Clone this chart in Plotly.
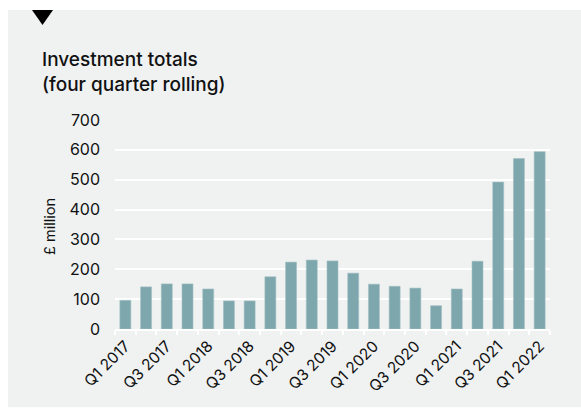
import plotly.graph_objects as go

# Quarterly investment totals, four-quarter rolling (£ million)
quarters = [
    "Q1 2017", "Q2 2017", "Q3 2017", "Q4 2017",
    "Q1 2018", "Q2 2018", "Q3 2018", "Q4 2018",
    "Q1 2019", "Q2 2019", "Q3 2019", "Q4 2019",
    "Q1 2020", "Q2 2020", "Q3 2020", "Q4 2020",
    "Q1 2021", "Q2 2021", "Q3 2021", "Q4 2021",
    "Q1 2022",
]
totals = [96, 141, 151, 151, 134, 94, 94, 175, 224, 231, 228, 187,
          150, 143, 137, 78, 134, 227, 492, 571, 594]

y_ticks = [0, 100, 200, 300, 400, 500, 600, 700]
title_text = "Investment totals<br>(four quarter rolling)"
y_title = "£ million"

# Only every other quarter is labelled
tick_text = [q if i % 2 == 0 else "" for i, q in enumerate(quarters)]

W, H = 581, 408
ML, MR, MT, MB = 115, 31, 120, 77
PW, PH = W - ML - MR, H - MT - MB

CARD = "#eff2f1"
BAR = "#7da7ad"
INK = "#111111"
FONT = "Inter, Roboto, sans-serif"


def px_x(px):
    return (px - ML) / PW


def px_y(py):
    return 1 - (py - MT) / PH


fig = go.Figure(
    go.Bar(
        x=quarters,
        y=totals,
        marker=dict(color=BAR, line=dict(color="#a3c0c4", width=0.6)),
        hoverinfo="x+y",
    )
)

fig.update_layout(
    width=W,
    height=H,
    margin=dict(l=ML, r=MR, t=MT, b=MB),
    paper_bgcolor="white",
    plot_bgcolor=CARD,
    bargap=0.47,
    showlegend=False,
    font=dict(family=FONT, color=INK, size=16),
    shapes=[
        # background card
        dict(type="rect", xref="paper", yref="paper", layer="below",
             x0=px_x(8), x1=px_x(W + 2), y0=px_y(H + 2), y1=px_y(9),
             fillcolor=CARD, line=dict(width=0)),
        # marker triangle on the card's top edge
        dict(type="path", xref="paper", yref="paper",
             path=(f"M {px_x(32)} {px_y(9)} L {px_x(53)} {px_y(9)} "
                   f"L {px_x(42.5)} {px_y(24)} Z"),
             fillcolor="black", line=dict(width=0)),
    ],
    annotations=[
        dict(text=title_text, xref="paper", yref="paper",
             x=px_x(40), y=px_y(45), xanchor="left", yanchor="top",
             align="left", showarrow=False,
             font=dict(family=FONT, size=19, color=INK, weight=500)),
        dict(text=y_title, xref="paper", yref="paper",
             x=px_x(50), y=px_y(228), xanchor="center", yanchor="middle",
             textangle=-90, showarrow=False,
             font=dict(family=FONT, size=14.5, color=INK)),
    ],
)

fig.update_yaxes(
    range=[0, 700],
    tickvals=y_ticks,
    showgrid=True,
    gridcolor="white",
    gridwidth=2,
    zeroline=False,
    showline=False,
    ticks="",
    ticklabelstandoff=14,
    tickfont=dict(family=FONT, size=16, color=INK),
)

fig.update_xaxes(
    tickmode="array",
    tickvals=quarters,
    ticktext=tick_text,
    tickangle=-45,
    tickson="boundaries",
    ticks="outside",
    ticklen=4,
    tickwidth=2,
    tickcolor="white",
    showline=True,
    linecolor="white",
    linewidth=2,
    showgrid=False,
    tickfont=dict(family=FONT, size=15.5, color=INK),
)

fig.write_html("out.html")
